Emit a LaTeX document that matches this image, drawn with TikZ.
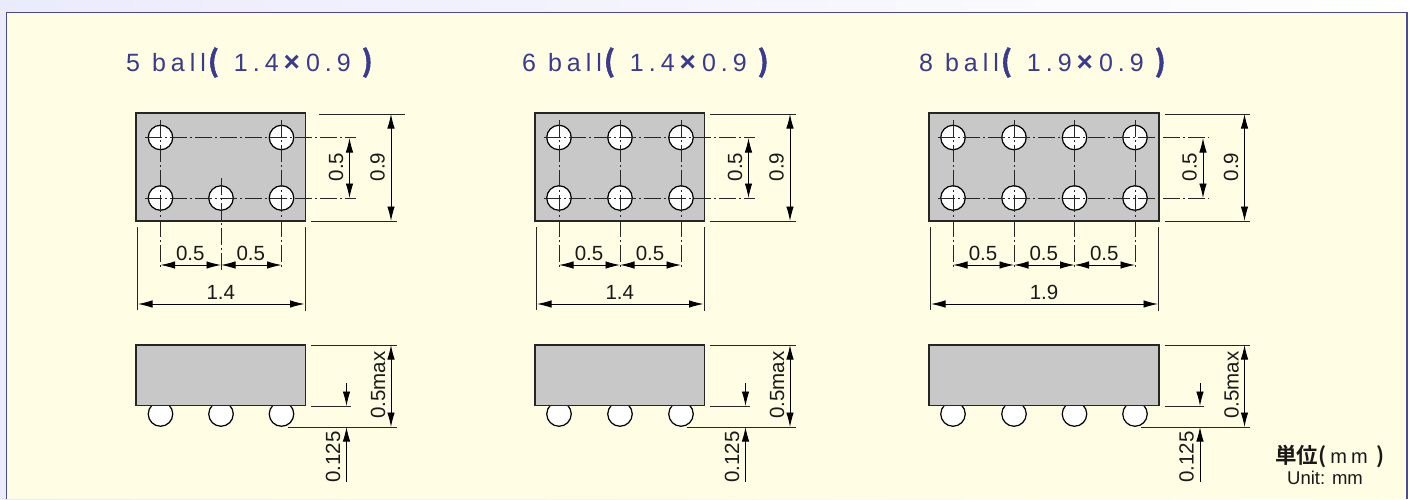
\documentclass[tikz,border=0pt]{standalone}
\usepackage{fontspec}
\setmainfont{Liberation Sans}
\newfontfamily\ttlfont[LetterSpace=20]{Liberation Sans}
\newfontfamily\ttlboldfont{Liberation Sans Bold}
\newfontfamily\cjkb[FakeBold=2]{Noto Sans CJK JP Bold}
\newfontfamily\cjkc{Noto Sans CJK JP Bold}
\usetikzlibrary{arrows.meta}
\definecolor{framec}{HTML}{4B4B9B}
\definecolor{paper}{HTML}{FFFDE3}
\definecolor{titlec}{HTML}{3A3A8E}
\definecolor{body}{HTML}{C8C8C8}
\tikzset{
  x=1pt,y=-1pt,
  bodybox/.style={draw=black!85,fill=body,line width=1.6,outer sep=0},
  ball/.style={draw=black,fill=white,line width=1.2,outer sep=0},
  centerl/.style={draw=black!85,line width=0.8,dash pattern=on 17 off 3 on 2 off 3},
  extl/.style={draw=black!85,line width=0.9},
  dimarrow/.style={draw=black,line width=0.9,{Latex[length=14.5,width=7.5]}-{Latex[length=14.5,width=7.5]}},
  onearrow/.style={draw=black,line width=0.9,-{Latex[length=14.5,width=7.5]}},
  dimtxt/.style={font=\fontsize{20.5}{22}\selectfont,inner sep=0,text=black!90},
  ttl/.style={anchor=base west,inner sep=0,text=titlec,font=\fontsize{25}{28}\selectfont},
}
% helper: a named two-ended line
\newcommand\lineby[6]{% style, name, x1,y1,x2,y2
  \coordinate (#2a) at (#3,#4);
  \coordinate (#2b) at (#5,#6);
  \draw[#1] (#2a) -- (#2b);
}
% #1 prefix, #2 x0, #3 width, #4 full columns, #5 partial columns (or none), #6 bottom-row balls, #7 dim list a/b, #8 total label, #9 shift of top extension line
\newcommand\pkg[9]{%
\begin{scope}[shift={(#2,0)}]
  \node[bodybox,minimum width=#3,minimum height=108,inner sep=0,anchor=north west] (#1top) at (0,113) {};
  \foreach \c [count=\i] in {#4} \node[ball,circle,minimum size=24.5,inner sep=0] (#1ta\i) at (\c,137.5) {};
  \foreach \c [count=\i] in {#6} \node[ball,circle,minimum size=24.5,inner sep=0] (#1tb\i) at (\c,198) {};
  \lineby{centerl}{#1ca}{9}{137.5}{#3+50}{137.5}
  \lineby{centerl}{#1cb}{9}{198}{#3+50}{198}
  \foreach \c [count=\i] in {#4} {\lineby{centerl}{#1v\i}{\c}{120}{\c}{270}}
  \foreach \c [count=\i] in {#5} {\lineby{centerl}{#1p\i}{\c}{178}{\c}{270}}
  \lineby{extl}{#1e1}{#3+5.5+#9}{114}{#3+91+#9}{114}
  \lineby{extl}{#1e2}{#3+5.5}{221}{#3+91}{221}
  \lineby{dimarrow}{#1d9}{#3+85.5}{114}{#3+85.5}{221}
  \lineby{dimarrow}{#1d5}{#3+44}{138}{#3+44}{198}
  \node[dimtxt,rotate=90] (#1l5) at (#3+30.5,167) {0.5};
  \node[dimtxt,rotate=90] (#1l9) at (#3+72,167) {0.9};
  \lineby{extl}{#1w1}{1.5}{227}{1.5}{310}
  \lineby{extl}{#1w2}{#3-0.5}{227}{#3-0.5}{311}
  \lineby{dimarrow}{#1wd}{2}{304}{#3-1}{304}
  \node[dimtxt] (#1wl) at (#3/2,292) {#8};
  \foreach \a/\b [count=\i] in {#7} {
    \lineby{dimarrow}{#1s\i}{\a}{265}{\b}{265}
    \node[dimtxt] (#1sl\i) at ({(\a+\b)/2-0.5},253) {0.5};
  }
  % side view
  \foreach \c [count=\i] in {#6} \node[ball,circle,minimum size=24.5,inner sep=0] (#1b\i) at (\c,414) {};
  \node[bodybox,minimum width=#3,minimum height=60.5,inner sep=0,anchor=north west] (#1side) at (0,345) {};
  \lineby{extl}{#1h1}{#3+5.5}{345}{#3+91}{345}
  \lineby{extl}{#1h2}{#3+5.5}{406}{#3+45}{406}
  \lineby{extl}{#1h3}{#3-18}{427}{#3+91}{427}
  \lineby{dimarrow}{#1hd}{#3+85.5}{345}{#3+85.5}{427}
  \lineby{onearrow}{#1dn}{#3+41}{383}{#3+41}{406}
  \lineby{onearrow}{#1up}{#3+41}{482}{#3+41}{427}
  \node[dimtxt,rotate=90] (#1lm) at (#3+72.5,385) {0.5max};
  \node[dimtxt,rotate=90] (#1lc) at (#3+27.5,457) {0.125};
\end{scope}}
\newcommand\ttltext[3]{{\ttlfont #1}\hspace{2pt}{\cjkb\fontsize{29}{28}\selectfont (}\hspace{15pt}{\ttlfont #2}\hspace{5pt}{\ttlboldfont\fontsize{28}{28}\selectfont ×}\hspace{6pt}{\ttlfont #3}\hspace{11pt}{\cjkb\fontsize{29}{28}\selectfont )}}
\begin{document}
\begin{tikzpicture}
\useasboundingbox (0,0) rectangle (1414,499);
\fill[left color=black!5!blue!8!white,right color=white] (0,0) rectangle (1414,499);
\fill[paper] (6.5,12.5) rectangle (1407,499);
\draw[framec,line width=1.8] (6.5,499) -- (6.5,12.5) -- (1407,12.5) -- (1407,499);
\node[ttl] (t1) at (126,71.7) {\ttltext{5 ball}{1.4}{0.9}};
\node[ttl] (t2) at (522,71.7) {\ttltext{6 ball}{1.4}{0.9}};
\node[ttl] (t3) at (919,71.7) {\ttltext{8 ball}{1.9}{0.9}};
\pkg{a}{136}{169.5}{24.5,145.5}{85}{24.5,85,145.5}{24.5/85,85/145.5}{1.4}{8}
\pkg{b}{535}{169.5}{24,85,146}{}{24,85,146}{24/85,85/146}{1.4}{0}
\pkg{c}{929}{230}{24,85,145.5,206}{}{24,85,145.5,206}{24/85,85/145.5,145.5/206}{1.9}{0}
\node[anchor=base west,inner sep=0,text=black!90] (u1) at (1275,463) {{\cjkc\fontsize{21.5}{24}\selectfont 単位(}\hspace{4pt}{\ttlfont\fontsize{20}{24}\selectfont mm}\hspace{9pt}{\cjkc\fontsize{21.5}{24}\selectfont )}};
\node[inner sep=0,text=black!90,font=\fontsize{18.5}{20}\selectfont] (u2) at (1325,478) {Unit: mm};
\end{tikzpicture}
\end{document}
